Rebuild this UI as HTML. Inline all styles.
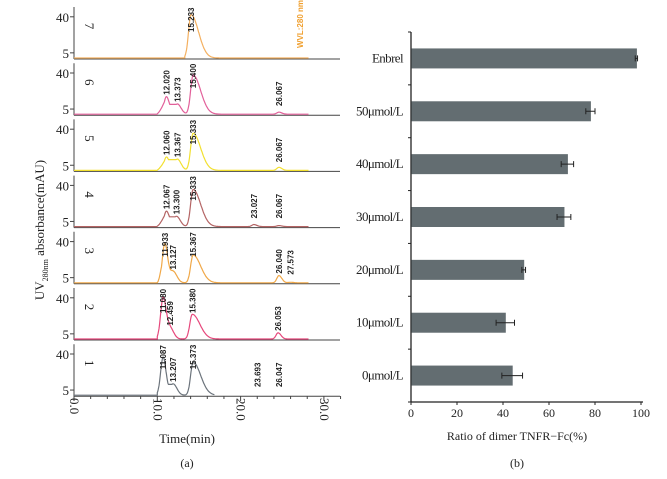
<!DOCTYPE html>
<html><head><meta charset="utf-8"><style>
html,body{margin:0;padding:0;background:#fff;}
svg{display:block;font-family:"Liberation Serif",serif;}
.pk{font-family:"Liberation Sans",sans-serif;font-size:8px;font-weight:bold;fill:#222;}
</style></head><body>
<svg id="fig" width="667" height="479" viewBox="0 0 667 479">
<g id="a"></g>
<g id="b"></g>
</svg>
<script>
// ---------- Panel (b) data ----------
const categories = ["Enbrel","50μmol/L","40μmol/L","30μmol/L","20μmol/L","10μmol/L","0μmol/L"];
const ratios = [98, 78, 68, 66.5, 49, 41, 44];
const errors = [0.5, 2, 2.7, 3, 0.8, 4, 4.5];
const xTicks = [0, 20, 40, 60, 80, 100];

// ---------- Panel (a) data ----------
const sampleIds = [7, 6, 5, 4, 3, 2, 1];
const sampleColors = ["#f4b060","#e2609a","#f2e030","#b46464","#f0a848","#e6487c","#6c747c"];
// peak positions as drawn on the plotted time axis (min)
const peakTimes = [
  [14.05],
  [11.1, 12.4, 14.3, 24.6],
  [11.1, 12.4, 14.3, 24.6],
  [11.1, 12.3, 14.3, 21.6, 24.6],
  [10.9, 11.9, 14.3, 24.6, 26.0],
  [10.7, 11.5, 14.2, 24.5],
  [10.7, 11.9, 14.3, 22.0, 24.6]
];
const peakHeights = [
  [42],
  [17, 10, 38, 2],
  [13, 11, 36, 3],
  [15, 10, 36, 2, 1],
  [38, 11, 27, 7, 0.5],
  [40, 11, 24, 6],
  [37, 11, 32, 0, 0]
];
const peakLabels = [
  ["15.233"],
  ["12.020","13.373","15.400","26.067"],
  ["12.060","13.367","15.333","26.067"],
  ["12.067","13.300","15.333","23.027","26.067"],
  ["11.933","13.127","15.367","26.040","27.573"],
  ["11.080","12.459","15.380","26.053"],
  ["11.087","13.207","15.373","23.693","26.047"]
];
const timeTicks = [0, 10, 20, 30];
const NS = "http://www.w3.org/2000/svg";
function mk(tag, attrs, parent, text){
  const e = document.createElementNS(NS, tag);
  for (const k in attrs) e.setAttribute(k, attrs[k]);
  if (text !== undefined) e.textContent = text;
  parent.appendChild(e); return e;
}

// ----- panel b -----
(function(){
  const g = document.getElementById('b');
  const x0 = 411, x1 = 641, axisY = 402, topY = 32;
  const xs = v => x0 + (v - xTicks[0]) / (xTicks[xTicks.length-1] - xTicks[0]) * (x1 - x0);
  const step = (axisY - topY) / categories.length;
  let l = mk('line',{x1:x0,y1:topY,x2:x0,y2:axisY,stroke:'#222','stroke-width':1.3},g);
   
  l = mk('line',{x1:x0,y1:axisY,x2:x1+2,y2:axisY,stroke:'#222','stroke-width':1.3},g);
   
  for (let i=0;i<=categories.length;i++){
    const y = topY + i*step;
    mk('line',{x1:x0-3,y1:y,x2:x0,y2:y,stroke:'#222'},g);
  }
  xTicks.forEach(v=>{
    mk('line',{x1:xs(v),y1:axisY,x2:xs(v),y2:axisY+3,stroke:'#222'},g);
    const t = mk('text',{x:xs(v),y:axisY+15,'text-anchor':'middle','font-size':12,fill:'#222'},g,String(v));
     
  });
  categories.forEach((c,i)=>{
    const cy = topY + (i+0.5)*step;
    const bh = 20;
    const r = mk('rect',{x:x0+0.5,y:cy-bh/2,width:xs(ratios[i])-x0,height:bh,fill:'#636d71'},g);
     
    const e1 = xs(ratios[i]-errors[i]), e2 = xs(ratios[i]+errors[i]);
    const eb = mk('path',{d:`M${e1},${cy}H${e2}M${e1},${cy-3}V${cy+3}M${e2},${cy-3}V${cy+3}`,stroke:'#222','stroke-width':1,fill:'none'},g);
     
    const t = mk('text',{x:403,y:cy+4,'text-anchor':'end','font-size':13,fill:'#222','letter-spacing':'-0.6'},g,c);
     
  });
  let t = mk('text',{x:517,y:440,'text-anchor':'middle','font-size':12,fill:'#222'},g,'Ratio of dimer TNFR−Fc(%)');
   
  t = mk('text',{x:517,y:467,'text-anchor':'middle','font-size':12,fill:'#222'},g,'(b)');
   
})();

// ----- panel a -----
(function(){
  const g = document.getElementById('a');
  const ax = 74, tx = t => ax + t*8.33;
  const endX = 340;
  sampleIds.forEach((id,i)=>{
    const base = 59 + i*56.2;
    const ys = h => base - 1 - h*1.03;
    const pg = mk('g',{},g);
     
    mk('line',{x1:ax,y1:base-52,x2:ax,y2:base,stroke:'#444','stroke-width':1},pg);
    mk('line',{x1:ax,y1:base,x2:endX,y2:base,stroke:'#444','stroke-width':1},pg);
    [40,5].forEach(v=>{
      mk('line',{x1:ax-4,y1:ys(v),x2:ax,y2:ys(v),stroke:'#444'},pg);
      mk('text',{x:ax-5,y:ys(v)+5,'text-anchor':'end','font-size':13,fill:'#222'},pg,String(v));
    });
    mk('text',{x:0,y:0,'font-size':13,fill:'#222',transform:`translate(85,${base-33}) rotate(90)`,'text-anchor':'middle'},pg,String(id));
    const pt = peakTimes[i], ph = peakHeights[i];
    const start = id===7 ? 13.3 : (id<=3 ? 10.0 : 9.9);
    let d = `M${tx(0)},${base-1}L${tx(start)},${base-1}`;
    const stop = id===1 ? 16.9 : 28.2;
    for (let t=start;t<=stop;t+=0.05){
      let h = 0;
      pt.forEach((p,k)=>{
        let wl, wr;
        if (p>20){ wl=0.25; wr=0.35; }
        else if (k===0 && pt.length>1){ wl=0.3; wr=0.35; }
        else if (k===1){ wl=0.35; wr=0.45; }
        else { wl=0.3; wr=0.9; }
        const w = t<p ? wl : wr;
        h += ph[k]*Math.exp(-0.5*((t-p)/w)**2);
      });
      if (pt.length>1 && t>start && t<pt[0]) h = Math.max(h, ph[0]*Math.min(1,(t-start)/(pt[0]-start))**1.5);
      if (pt.length>1 && t>pt[0] && t<pt[1]) h = Math.max(h, ph[1]*0.95);
      d += `L${tx(t).toFixed(1)},${ys(h).toFixed(1)}`;
    }
    const tr = mk('path',{d:d,fill:'none',stroke:sampleColors[i],'stroke-width':1.2},pg);
     
    peakLabels[i].forEach((lab,k)=>{
      const px = tx(pt[k]);
      const py = Math.max(ys(Math.max(ph[k],6)) - 2, base - 52 + 25);
      const lt = mk('text',{class:'pk',x:0,y:0,transform:`translate(${px+3},${py}) rotate(-90)`},pg,lab);
       
    });
  });
  const w = mk('text',{x:0,y:0,transform:'translate(303,48) rotate(-90)','font-family':'Liberation Sans,sans-serif','font-size':8,'font-weight':'bold',fill:'#f0a030'},g,'WVL:280 nm');
   
  for (let t=0;t<=32;t+=2) mk('line',{x1:tx(t),y1:396,x2:tx(t),y2:t%10===0?401:399,stroke:'#444'},g);
  timeTicks.forEach(v=>{
    const lt = mk('text',{x:0,y:0,transform:`translate(${tx(v)-4},398) rotate(90)`,'font-size':13,fill:'#222'},g,v.toFixed(1));
     
  });
  let t = mk('text',{x:187,y:443,'text-anchor':'middle','font-size':13,fill:'#222'},g,'Time(min)');
   
  t = mk('text',{x:187,y:467,'text-anchor':'middle','font-size':12,fill:'#222'},g,'(a)');
   
  t = mk('text',{x:0,y:0,transform:'translate(44,230) rotate(-90)','text-anchor':'middle','font-size':13,fill:'#222'},g);
   
  mk('tspan',{},t,'UV');
  mk('tspan',{'font-size':8,dy:4},t,'280nm');
  mk('tspan',{dy:-4},t,' absorbance(mAU)');
})();
</script>
</body></html>
